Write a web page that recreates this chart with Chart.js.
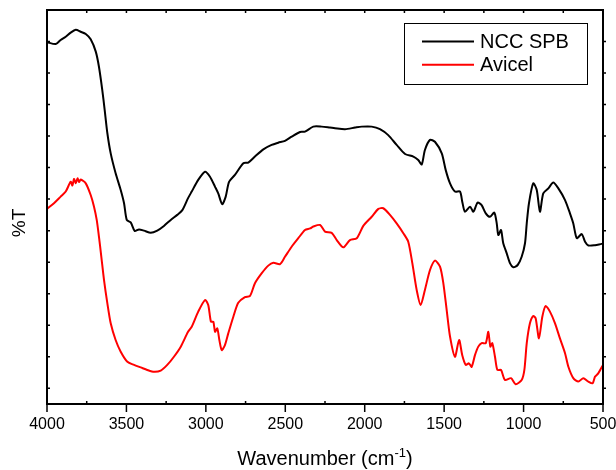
<!DOCTYPE html>
<html>
<head>
<meta charset="utf-8">
<script src="https://cdn.jsdelivr.net/npm/chart.js@4.4.1/dist/chart.umd.min.js"></script>
<style>
  body { margin: 0; background: #fff; }
  canvas { display: block; }
</style>
</head>
<body>
<canvas id="ftir" width="616" height="470"></canvas>
<script>
// wavenumber (cm-1) and %T (y in arbitrary units)
var wnNcc = [4000,3945,3914,3882,3851,3819,3788,3756,3725,3693,3673,3652,3637,3620,3599,3568,3536,3515,3498,3473,3448,3421,3389,3347,3306,3264,3221,3180,3148,3112,3089,3048,3005,2974,2942,2922,2897,2875,2854,2817,2764,2733,2691,2638,2586,2544,2502,2460,2407,2376,2324,2271,2219,2187,2124,2061,2019,1956,1904,1852,1799,1746,1694,1663,1641,1621,1589,1558,1515,1490,1463,1432,1400,1386,1369,1337,1316,1289,1264,1238,1211,1184,1169,1159,1142,1128,1106,1085,1065,1037,1012,991,980,966,939,917,897,876,844,813,781,739,708,687,665,634,613,592,550,508,500];
var tNcc = [114.8,114.2,115.5,116.5,117.8,118.7,118.1,117.4,115.7,111.8,107.0,99.6,93.3,85.9,79.5,73.2,67.9,63.7,58.4,57.6,54.9,55.4,55.0,54.3,55.0,56.5,58.4,60.0,61.5,65.3,67.4,71.1,73.7,72.1,68.9,66.8,63.4,65.8,70.5,72.7,76.4,76.6,78.5,80.8,82.2,82.9,83.5,84.8,86.3,86.4,88.0,88.0,87.7,87.5,87.2,87.7,88.0,88.0,87.2,85.3,82.2,79.3,78.5,77.4,76.0,80.6,83.8,83.2,79.5,74.2,70.0,67.4,67.4,64.2,61.0,62.6,61.0,63.9,63.1,60.5,59.4,60.7,57.3,53.6,55.2,51.0,47.8,44.6,43.4,44.1,46.7,51.0,57.3,63.7,70.0,67.9,61.0,66.8,68.4,70.3,68.4,64.7,60.5,57.3,52.6,53.9,51.5,50.3,50.4,50.8,50.8];

var wnAvicel = [4000,3956,3914,3882,3851,3840,3830,3819,3808,3798,3788,3756,3725,3704,3687,3673,3658,3641,3620,3599,3568,3536,3494,3452,3410,3369,3326,3284,3243,3201,3158,3112,3089,3048,3005,2985,2968,2953,2942,2928,2915,2900,2880,2859,2827,2796,2754,2722,2691,2648,2607,2575,2533,2502,2460,2418,2376,2344,2324,2281,2250,2208,2176,2135,2093,2050,2009,1956,1914,1883,1841,1799,1757,1726,1700,1673,1648,1621,1589,1558,1526,1505,1484,1463,1432,1406,1386,1364,1344,1327,1306,1285,1264,1238,1222,1209,1197,1180,1165,1142,1117,1079,1050,1012,995,980,960,939,924,903,882,861,834,802,771,739,718,687,655,624,592,565,550,530,500];
var tAvicel = [61.9,63.7,65.8,67.4,70.5,69.3,71.4,70.0,71.6,70.4,71.2,70.0,66.3,62.6,58.4,53.1,46.7,39.3,31.9,25.6,20.3,16.6,13.4,12.4,11.6,10.8,10.2,10.6,12.4,15.0,18.2,22.9,24.5,29.3,33.0,31.4,26.1,26.1,22.9,24.0,20.3,17.1,18.7,22.4,27.7,32.1,33.9,34.3,38.3,41.5,43.9,44.8,44.4,46.7,49.9,52.6,55.2,55.7,56.3,56.8,54.7,54.3,52.0,49.7,52.0,52.6,56.5,59.4,61.9,62.1,60.0,57.3,54.2,51.5,44.6,36.2,31.4,36.2,42.5,45.5,43.6,38.3,29.8,21.4,15.0,20.3,15.5,12.4,12.9,11.8,15.5,18.2,19.3,19.3,22.9,18.2,19.3,15.0,10.8,10.8,7.6,8.2,6.3,7.6,10.8,19.3,25.6,27.9,27.2,20.8,27.7,31.1,29.3,25.6,20.8,16.1,11.8,8.2,7.1,8.2,7.1,6.6,8.7,9.7,12.4];

var xTicks = [4000, 3500, 3000, 2500, 2000, 1500, 1000, 500];

function pairs(xs, ys) {
    var out = [];
    for (let i = 0; i < xs.length; i++) {
        out.push({x: xs[i], y: ys[i]});
    }
    return out;
}

var fontName = "'Liberation Sans', Arial, sans-serif";

// frame, inward/outward ticks, axis titles and boxed legend
var decor = {
    id: 'decor',
    afterDatasetsDraw: function(chart) {
        var ctx = chart.ctx, a = chart.chartArea;
        var xs = chart.scales.x, ys = chart.scales.y;
        ctx.save();
        ctx.strokeStyle = '#000';
        ctx.lineWidth = 2;
        ctx.strokeRect(a.left, a.top, a.right - a.left, a.bottom - a.top);

        ctx.lineWidth = 1.5;
        ctx.beginPath();
        for (let w = 500; w <= 4000; w += 250) {
            var px = xs.getPixelForValue(w);
            var major = xTicks.indexOf(w) >= 0;
            ctx.moveTo(px, a.bottom);
            ctx.lineTo(px, major ? a.bottom + 8 : a.bottom - 3);
            ctx.moveTo(px, a.top);
            ctx.lineTo(px, a.top + 3);
        }
        for (let t = 5; t < 125; t += 10) {
            var py = ys.getPixelForValue(t);
            ctx.moveTo(a.left, py);
            ctx.lineTo(a.left + 3, py);
            ctx.moveTo(a.right, py);
            ctx.lineTo(a.right + 3, py);
        }
        ctx.stroke();

        // x title with superscript
        ctx.fillStyle = '#000';
        ctx.textBaseline = 'alphabetic';
        ctx.textAlign = 'left';
        var main = 'Wavenumber (cm', sup = '-1', close = ')';
        ctx.font = '20px ' + fontName;
        var w1 = ctx.measureText(main).width, w3 = ctx.measureText(close).width;
        ctx.font = '13px ' + fontName;
        var w2 = ctx.measureText(sup).width;
        var sx = (a.left + a.right) / 2 - (w1 + w2 + w3) / 2;
        var by = 465;
        ctx.font = '20px ' + fontName;
        ctx.fillText(main, sx, by);
        ctx.fillText(close, sx + w1 + w2, by);
        ctx.font = '13px ' + fontName;
        ctx.fillText(sup, sx + w1, by - 8);

        // y title
        ctx.save();
        ctx.translate(19.5, 223);
        ctx.rotate(-Math.PI / 2);
        ctx.font = '19px ' + fontName;
        ctx.textAlign = 'center';
        ctx.textBaseline = 'middle';
        ctx.fillText('%T', 0, 0);
        ctx.restore();

        // legend
        var lx = a.right - 199, ly = a.top + 13;
        ctx.lineWidth = 1;
        ctx.strokeStyle = '#000';
        ctx.strokeRect(lx + 0.5, ly + 0.5, 183, 61);
        ctx.font = '20px ' + fontName;
        ctx.textAlign = 'left';
        ctx.textBaseline = 'middle';
        chart.data.datasets.forEach(function(ds, i) {
            var yy = ly + 18.5 + i * 23.3;
            ctx.strokeStyle = ds.borderColor;
            ctx.lineWidth = 2;
            ctx.beginPath();
            ctx.moveTo(lx + 18, yy);
            ctx.lineTo(lx + 70, yy);
            ctx.stroke();
            ctx.fillStyle = '#000';
            ctx.fillText(ds.label, lx + 76, yy + 1);
        });
        ctx.restore();
    }
};

var ctx1 = document.getElementById('ftir').getContext('2d');
var myChart = new Chart(ctx1, {
    type: 'line',
    data: {
        datasets: [{
                label: 'NCC SPB',
                data: pairs(wnNcc, tNcc),
                borderColor: '#000000',
                borderWidth: 2,
                pointRadius: 0,
                tension: 0.25,
                fill: false
            },
            {
                label: 'Avicel',
                data: pairs(wnAvicel, tAvicel),
                borderColor: '#ff0000',
                borderWidth: 2,
                pointRadius: 0,
                tension: 0.25,
                fill: false
            }
        ]
    },
    options: {
        responsive: false,
        animation: false,
        devicePixelRatio: 1,
        layout: { padding: { left: 47, right: 13, top: 10, bottom: 35.8 } },
        plugins: {
            legend: { display: false },
            tooltip: { enabled: false }
        },
        scales: {
            x: {
                type: 'linear',
                reverse: true,
                min: 500,
                max: 4000,
                afterBuildTicks: function(scale) {
                    scale.ticks = xTicks.map(function(v) { return {value: v}; });
                },
                afterFit: function(scale) {
                    scale.height = 30.2;
                    scale.paddingLeft = 0;
                    scale.paddingRight = 0;
                    scale.paddingTop = 0;
                    scale.paddingBottom = 0;
                },
                ticks: {
                    autoSkip: false,
                    maxRotation: 0,
                    padding: 11,
                    color: '#000',
                    font: { family: fontName, size: 16 },
                    callback: function(v) { return String(v); }
                },
                grid: { display: false, drawTicks: false },
                border: { display: false }
            },
            y: {
                display: false,
                min: 0,
                max: 125
            }
        }
    },
    plugins: [decor]
});
</script>
</body>
</html>
